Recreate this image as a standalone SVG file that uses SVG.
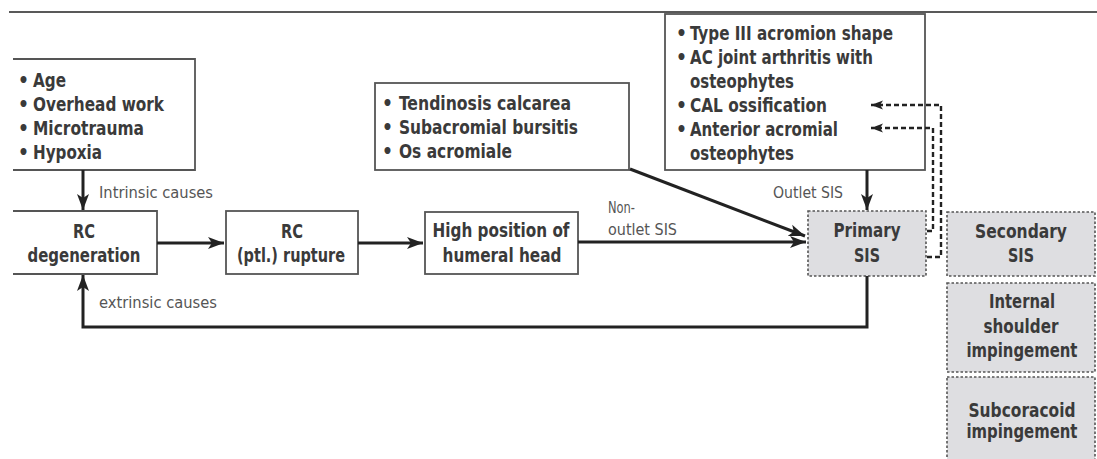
<svg xmlns="http://www.w3.org/2000/svg" width="1097" height="459" viewBox="0 0 1097 459">
<defs>
<style>
.bx{fill:#fff;stroke:#555;stroke-width:1.8}
.gb{fill:#dedee1;stroke:#555;stroke-width:1.6;stroke-dasharray:2.5 2}
.t{font-family:"DejaVu Sans Condensed","Liberation Sans Narrow","Liberation Sans",sans-serif;font-weight:bold;font-size:19px;fill:#3a3a3a}
.c{text-anchor:middle}
.lb{font-family:"DejaVu Sans Condensed","Liberation Sans Narrow","Liberation Sans",sans-serif;font-size:16px;fill:#555}
.ar{fill:none;stroke:#222;stroke-width:3}
.da{fill:none;stroke:#222;stroke-width:2.4;stroke-dasharray:5 3}
</style>
<marker id="ah" markerUnits="userSpaceOnUse" markerWidth="18" markerHeight="14" refX="16" refY="7" orient="auto">
<path d="M0,1 L16,7 L0,13 L4,7 z" fill="#222"/>
</marker>
<marker id="dh" markerUnits="userSpaceOnUse" markerWidth="14" markerHeight="10" refX="12" refY="5" orient="auto">
<path d="M0,0.5 L12,5 L0,9.5 L3,5 z" fill="#222"/>
</marker>
</defs>
<rect width="1097" height="459" fill="#fff"/>
<line x1="9" y1="12" x2="1097" y2="12" stroke="#222" stroke-width="1.6"/>

<g id="risk-factors">
<path class="bx" d="M13,59 H195 V170 H13"/>
<text class="t" x="18" y="87">•</text><text class="t" x="33" y="87" textLength="33" lengthAdjust="spacingAndGlyphs">Age</text>
<text class="t" x="18" y="111">•</text><text class="t" x="33" y="111" textLength="131" lengthAdjust="spacingAndGlyphs">Overhead work</text>
<text class="t" x="18" y="135">•</text><text class="t" x="33" y="135" textLength="111" lengthAdjust="spacingAndGlyphs">Microtrauma</text>
<text class="t" x="18" y="159">•</text><text class="t" x="33" y="159" textLength="69" lengthAdjust="spacingAndGlyphs">Hypoxia</text>
</g>

<g id="rc-degeneration">
<path class="bx" d="M13,211 H157 V274 H13"/>
<text class="t c" x="84" y="238" textLength="22" lengthAdjust="spacingAndGlyphs">RC</text>
<text class="t c" x="84" y="262" textLength="113" lengthAdjust="spacingAndGlyphs">degeneration</text>
</g>

<g id="rc-rupture">
<rect class="bx" x="226" y="211" width="132" height="63"/>
<text class="t c" x="292" y="238" textLength="22" lengthAdjust="spacingAndGlyphs">RC</text>
<text class="t c" x="291" y="262" textLength="108" lengthAdjust="spacingAndGlyphs">(ptl.) rupture</text>
</g>

<g id="high-position">
<rect class="bx" x="425" y="212" width="153" height="62"/>
<text class="t c" x="501" y="237" textLength="137" lengthAdjust="spacingAndGlyphs">High position of</text>
<text class="t c" x="502" y="262" textLength="119" lengthAdjust="spacingAndGlyphs">humeral head</text>
</g>

<g id="non-outlet-causes">
<rect class="bx" x="375" y="83" width="254" height="87"/>
<text class="t" x="382" y="110">•</text><text class="t" x="399" y="110" textLength="172" lengthAdjust="spacingAndGlyphs">Tendinosis calcarea</text>
<text class="t" x="382" y="134">•</text><text class="t" x="399" y="134" textLength="179" lengthAdjust="spacingAndGlyphs">Subacromial bursitis</text>
<text class="t" x="382" y="158">•</text><text class="t" x="399" y="158" textLength="113" lengthAdjust="spacingAndGlyphs">Os acromiale</text>
</g>

<g id="outlet-causes">
<rect class="bx" x="665" y="14" width="260" height="156"/>
<text class="t" x="676" y="40">•</text><text class="t" x="690" y="40" textLength="203" lengthAdjust="spacingAndGlyphs">Type III acromion shape</text>
<text class="t" x="676" y="64">•</text><text class="t" x="690" y="64" textLength="183" lengthAdjust="spacingAndGlyphs">AC joint arthritis with</text>
<text class="t" x="690" y="88" textLength="104" lengthAdjust="spacingAndGlyphs">osteophytes</text>
<text class="t" x="676" y="112">•</text><text class="t" x="690" y="112" textLength="137" lengthAdjust="spacingAndGlyphs">CAL ossification</text>
<text class="t" x="676" y="136">•</text><text class="t" x="690" y="136" textLength="148" lengthAdjust="spacingAndGlyphs">Anterior acromial</text>
<text class="t" x="690" y="160" textLength="104" lengthAdjust="spacingAndGlyphs">osteophytes</text>
</g>

<g id="primary-sis">
<rect class="gb" x="808" y="211" width="118" height="65"/>
<text class="t c" x="867" y="237" textLength="67" lengthAdjust="spacingAndGlyphs">Primary</text>
<text class="t c" x="867" y="262" textLength="26" lengthAdjust="spacingAndGlyphs">SIS</text>
</g>

<g id="secondary-sis">
<rect class="gb" x="947" y="212" width="148" height="64"/>
<text class="t c" x="1021" y="238" textLength="92" lengthAdjust="spacingAndGlyphs">Secondary</text>
<text class="t c" x="1021" y="262" textLength="26" lengthAdjust="spacingAndGlyphs">SIS</text>
</g>

<g id="internal-impingement">
<rect class="gb" x="947" y="283" width="148" height="89"/>
<text class="t c" x="1022" y="308" textLength="66" lengthAdjust="spacingAndGlyphs">Internal</text>
<text class="t c" x="1021" y="333" textLength="75" lengthAdjust="spacingAndGlyphs">shoulder</text>
<text class="t c" x="1022" y="357" textLength="111" lengthAdjust="spacingAndGlyphs">impingement</text>
</g>

<g id="subcoracoid-impingement">
<rect class="gb" x="947" y="377" width="148" height="90"/>
<text class="t c" x="1022" y="417" textLength="107" lengthAdjust="spacingAndGlyphs">Subcoracoid</text>
<text class="t c" x="1022" y="438" textLength="111" lengthAdjust="spacingAndGlyphs">impingement</text>
</g>

<g id="connectors">
<line class="ar" x1="83" y1="170" x2="83" y2="210" marker-end="url(#ah)"/>
<line class="ar" x1="157" y1="243" x2="224" y2="243" marker-end="url(#ah)"/>
<line class="ar" x1="358" y1="243" x2="423" y2="243" marker-end="url(#ah)"/>
<line class="ar" x1="578" y1="242" x2="806" y2="242" marker-end="url(#ah)"/>
<line class="ar" x1="630" y1="169" x2="805" y2="236" marker-end="url(#ah)"/>
<line class="ar" x1="867" y1="170" x2="867" y2="210" marker-end="url(#ah)"/>
<path class="ar" d="M867,276 V327 H83 V275" marker-end="url(#ah)"/>
<path class="da" d="M927,257 H941 V105 H871" marker-end="url(#dh)"/>
<path class="da" d="M927,231 H933 V128 H871" marker-end="url(#dh)"/>
<text class="lb" x="99" y="198" textLength="114" lengthAdjust="spacingAndGlyphs">Intrinsic causes</text>
<text class="lb" x="99" y="308" textLength="118" lengthAdjust="spacingAndGlyphs">extrinsic causes</text>
<text class="lb" x="608" y="213" textLength="27" lengthAdjust="spacingAndGlyphs">Non-</text>
<text class="lb" x="608" y="235" textLength="69" lengthAdjust="spacingAndGlyphs">outlet SIS</text>
<text class="lb" x="773" y="198" textLength="70" lengthAdjust="spacingAndGlyphs">Outlet SIS</text>
</g>
</svg>
